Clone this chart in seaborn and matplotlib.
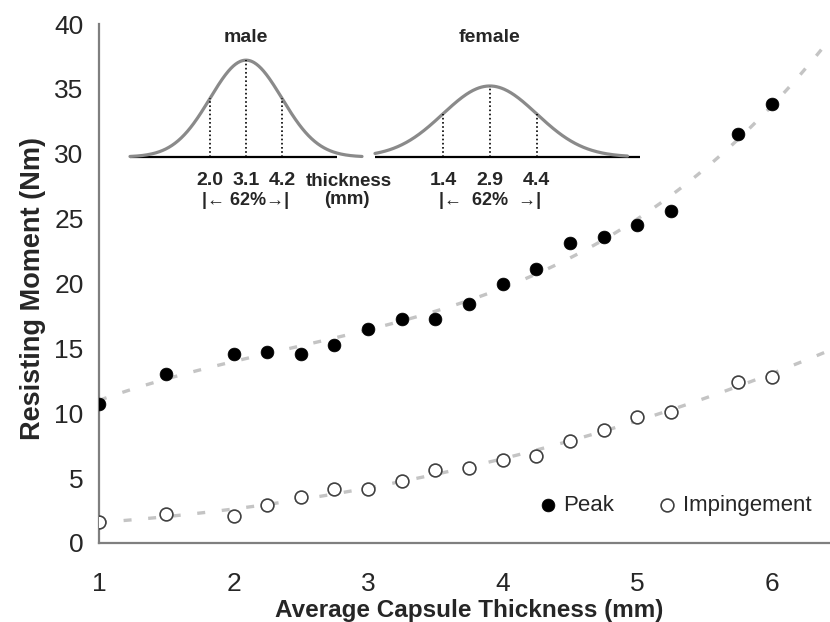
import numpy as np
import pandas as pd
import matplotlib
matplotlib.use('Agg')
import matplotlib.pyplot as plt
import seaborn as sns

# capsule thickness (mm) and resisting moment (Nm)
thickness = [1, 1.5, 2, 2.25, 2.5, 2.75, 3, 3.25, 3.5, 3.75, 4, 4.25, 4.5, 4.75, 5, 5.25, 5.75, 6]
peak = [10.7, 13.0, 14.6, 14.75, 14.6, 15.25, 16.5, 17.25, 17.3, 18.45, 20.0, 21.15,
        23.1, 23.6, 24.5, 25.55, 31.5, 33.8]
impingement = [1.6, 2.2, 2.1, 2.93, 3.52, 4.14, 4.14, 4.78, 5.63, 5.76, 6.4, 6.7,
               7.86, 8.7, 9.7, 10.08, 12.4, 12.83]

# inset: thickness distribution per group (mean, sd in mm)
groups = ['male', 'female']
group_mean = [3.1, 2.9]
group_sd = [1.1, 1.5]
coverage = '62%'

sns.set_style('white')
plt.rcParams['font.family'] = ['Liberation Sans', 'DejaVu Sans']

GRAY_AX = '#7f7f7f'
TREND = '#c4c4c4'

df = pd.DataFrame({'thickness': thickness, 'Peak': peak, 'Impingement': impingement})

fig = plt.figure(figsize=(8.3, 6.22), dpi=100)
ax = fig.add_axes([99 / 830, 79 / 622, 740 / 830, 519 / 622])
ax.set_xlim(1, 6.5)
ax.set_ylim(0, 40)

# Excel-style polynomial trendlines
trend_kw = dict(color=TREND, lw=2.4, linestyle=(0, (2.4, 5.0)), zorder=1)
for col in ['Peak', 'Impingement']:
    sns.regplot(data=df, x='thickness', y=col, order=3, ci=None, truncate=False,
                scatter=False, line_kws=trend_kw, ax=ax)

sns.scatterplot(data=df, x='thickness', y='Peak', color='black', edgecolor='black',
                s=85, linewidth=0.5, label='Peak', zorder=3, ax=ax)
sns.scatterplot(data=df, x='thickness', y='Impingement', color='white', edgecolor='#404040',
                s=85, linewidth=1.2, label='Impingement', zorder=3, ax=ax)

ax.set_xlim(1, 6.5)
ax.set_ylim(0, 40)
ax.set_xticks([1, 2, 3, 4, 5, 6])
ax.set_yticks(range(0, 41, 5))
for s in ['top', 'right']:
    ax.spines[s].set_visible(False)
for s in ['left', 'bottom']:
    ax.spines[s].set_color(GRAY_AX)
    ax.spines[s].set_linewidth(1.6)
ax.tick_params(direction='out', length=5, width=1.3, color=GRAY_AX, labelsize=19)
ax.tick_params(axis='x', pad=16)
ax.tick_params(axis='y', pad=6)

ax.set_xlabel('Average Capsule Thickness (mm)', fontsize=17.5, fontweight='bold')
ax.set_ylabel('Resisting Moment (Nm)', fontsize=19.5, fontweight='bold')
ax.xaxis.set_label_coords(0.5, -0.108)
ax.yaxis.set_label_coords(-0.072, 0.49)

ax.legend(loc='center right', bbox_to_anchor=(0.975, 0.073), ncol=2, frameon=False,
          fontsize=16, handletextpad=-0.3, columnspacing=1.4, borderaxespad=0)

# inset with the two thickness distributions
inset_px = {'male': (130, 232, -0.45, 6.65, 5.88), 'female': (375, 265, -0.77, 7.7, 7.7)}
base_y = 157
dens_px = 267
for g, m, sd in zip(groups, group_mean, group_sd):
    left, width, x0, x1, base_end = inset_px[g]
    iax = fig.add_axes([left / 830, (622 - base_y) / 622, width / 830, 0.40 * dens_px / 622])
    iax.set_xlim(x0, x1)
    iax.set_ylim(0, 0.40)
    iax.axis('off')
    xs = np.linspace(x0, x1 - 0.4 if g == 'female' else x1, 300)
    dens = np.exp(-0.5 * ((xs - m) / sd) ** 2) / (sd * np.sqrt(2 * np.pi))
    iax.plot([x0, base_end], [0, 0], color='black', lw=1.6, solid_capstyle='butt', clip_on=False)
    sns.lineplot(x=xs, y=dens, color='#8a8a8a', lw=2.3, ax=iax, clip_on=False)
    pdf_peak = 1 / (sd * np.sqrt(2 * np.pi))
    for xv in [m - sd, m, m + sd]:
        yv = pdf_peak * np.exp(-0.5 * ((xv - m) / sd) ** 2)
        iax.plot([xv, xv], [0, yv], color='black', lw=1.2, linestyle=(0, (1, 1.5)))
        iax.annotate(f'{xv:.1f}', xy=(xv, 0), xytext=(0, -17), textcoords='offset points',
                     ha='center', va='center', fontsize=14, fontweight='bold')
    arrow_txt = f'|\u2190 {coverage}\u2192|' if g == 'male' else f'|\u2190  {coverage}  \u2192|'
    iax.annotate(arrow_txt, xy=(m, 0), xytext=(0, -31), textcoords='offset points',
                 ha='center', va='center', fontsize=13, fontweight='bold')
    fig.text(iax.transData.transform((m, 0))[0] / fig.bbox.width, 1 - 38 / 622, g,
             ha='center', va='center', fontsize=14, fontweight='bold')

fig.text(349 / 830, 1 - 181 / 622, 'thickness', ha='center', va='center', fontsize=13.5, fontweight='bold')
fig.text(347 / 830, 1 - 200 / 622, '(mm)', ha='center', va='center', fontsize=13.5, fontweight='bold')

fig.savefig('out.png', dpi=100)
